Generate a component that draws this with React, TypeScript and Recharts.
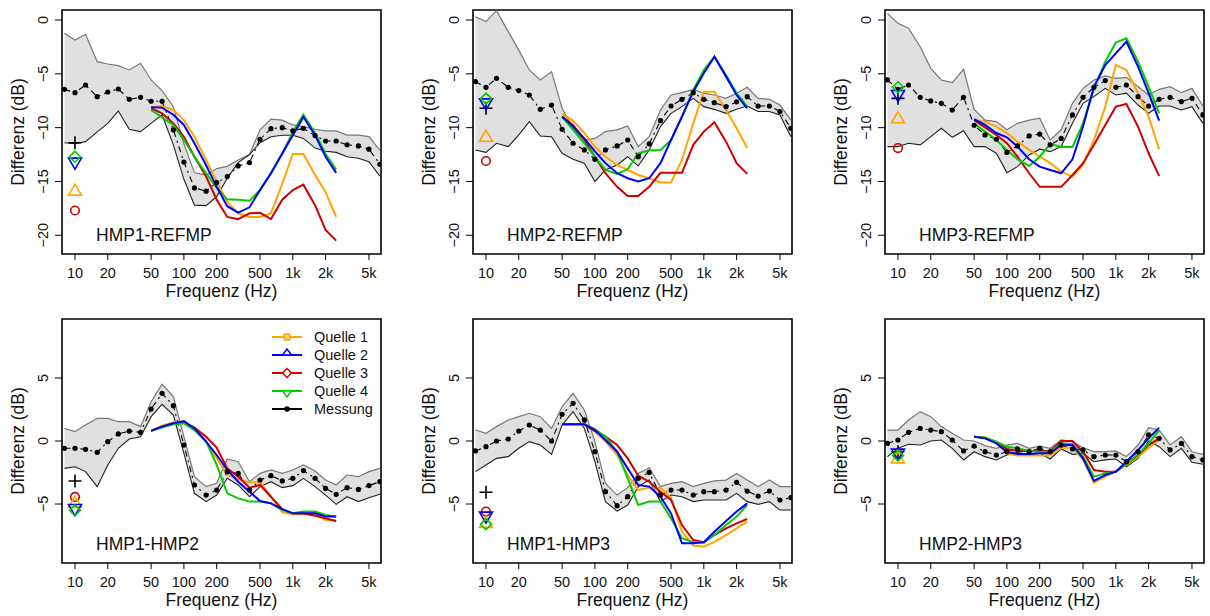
import React from 'react';
import { Area, ComposedChart, Line, ReferenceArea, Scatter, XAxis, YAxis } from 'recharts';

// terzband centre frequencies (Hz)
const FREQS = [8, 10, 12.5, 16, 20, 25, 31.5, 40, 50, 63, 80, 100, 125, 160, 200, 250, 315, 400, 500, 630, 800, 1000, 1250, 1600, 2000, 2500, 3150, 4000, 5000, 6300];
const SRC_FREQS = [50, 63, 80, 100, 125, 160, 200, 250, 315, 400, 500, 630, 800, 1000, 1250, 1600, 2000, 2500];
const X_TICKS = [10, 20, 50, 100, 200, 500, 1000, 2000, 5000];
const X_TICK_LABELS = ['10', '20', '50', '100', '200', '500', '1k', '2k', '5k'];
const Y_TICKS_TOP = [0, -5, -10, -15, -20];
const Y_TICKS_BOTTOM = [5, 0, -5];
const LEGEND_LABELS = ['Quelle 1', 'Quelle 2', 'Quelle 3', 'Quelle 4', 'Messung'];

// HMP1-REFMP
const P1_MEAN = [-6.44, -6.75, -6.04, -7.12, -6.69, -6.41, -7.37, -7.18, -7.55, -7.55, -10.2, -13.2, -15.6, -15.9, -15.1, -14.55, -13.56, -13.25, -11.08, -10.1, -10.0, -10.3, -10.06, -10.74, -11.24, -11.24, -11.6, -11.7, -12.0, -13.4];
const P1_HI = [-1.24, -1.86, -1.33, -3.87, -4.09, -4.24, -4.64, -4.02, -5.57, -6.56, -8.05, -11.5, -14.2, -14.4, -13.8, -13.6, -13.0, -12.5, -10.2, -9.2, -9.3, -9.75, -9.9, -10.15, -10.3, -10.3, -10.7, -10.7, -10.84, -12.1];
const P1_LO = [-11.4, -11.5, -11.3, -10.4, -9.6, -8.45, -10.15, -10.37, -9.6, -8.8, -11.6, -14.8, -17.2, -17.25, -16.4, -14.7, -13.25, -12.5, -11.4, -10.84, -10.7, -10.7, -11.0, -11.9, -12.2, -12.3, -12.7, -12.85, -13.16, -14.5];
const P1_Q1 = [-8.1, -8.0, -8.36, -9.3, -10.84, -13.0, -15.0, -16.9, -17.96, -18.3, -18.3, -17.96, -15.2, -12.45, -12.45, -14.4, -16.0, -18.3];
const P1_Q2 = [-8.1, -8.14, -8.8, -9.75, -11.45, -13.5, -15.5, -17.3, -17.9, -17.4, -15.8, -14.24, -12.4, -10.7, -9.0, -10.7, -12.7, -14.2];
const P1_Q3 = [-8.2, -8.67, -9.6, -10.84, -12.7, -14.55, -16.7, -18.3, -18.5, -17.96, -17.9, -18.5, -16.7, -15.8, -15.3, -17.2, -19.5, -20.5];
const P1_Q4 = [-8.36, -9.04, -9.75, -11.15, -12.7, -14.24, -15.6, -16.66, -16.7, -16.8, -15.8, -14.24, -12.4, -10.4, -8.8, -10.5, -12.45, -13.9];
const P1_AT10 = [-11.4, -15.85, -13.25, -17.7, -12.7];

// HMP2-REFMP
const P2_MEAN = [-5.73, -6.25, -5.42, -6.25, -6.56, -6.97, -8.3, -7.9, -10.15, -11.45, -12.07, -12.94, -12.07, -11.7, -11.15, -12.7, -11.5, -9.35, -7.99, -7.37, -6.75, -7.37, -7.68, -8.05, -7.6, -7.12, -7.99, -7.99, -8.5, -10.06];
const P2_HI = [0.3, -0.15, 0.87, -1.08, -2.8, -4.64, -5.57, -4.8, -8.2, -10.06, -11.15, -11.0, -10.37, -10.2, -9.85, -11.76, -10.84, -8.36, -6.97, -6.75, -6.44, -6.8, -6.97, -7.28, -6.8, -6.25, -7.28, -7.37, -7.9, -9.3];
const P2_LO = [-12.07, -12.3, -11.45, -11.76, -10.68, -9.44, -10.77, -10.84, -12.38, -12.94, -13.3, -15.0, -13.93, -13.47, -12.7, -13.56, -12.07, -9.9, -8.67, -8.05, -7.28, -8.05, -8.3, -8.67, -8.3, -7.99, -8.5, -8.5, -8.82, -10.84];
const P2_Q1 = [-8.73, -9.35, -10.5, -11.76, -12.7, -13.47, -13.93, -14.4, -14.7, -15.1, -15.1, -13.0, -9.6, -6.66, -6.66, -8.36, -10.06, -11.9];
const P2_Q2 = [-8.98, -9.9, -11.0, -12.2, -13.3, -14.24, -14.7, -15.0, -14.7, -13.3, -11.15, -8.98, -6.66, -4.95, -3.4, -5.26, -6.97, -8.2];
const P2_Q3 = [-8.98, -9.75, -11.15, -12.7, -14.24, -15.5, -16.35, -16.35, -15.5, -14.2, -14.2, -14.2, -11.6, -10.37, -9.5, -11.3, -13.3, -14.3];
const P2_Q4 = [-8.98, -10.2, -11.45, -12.7, -13.93, -14.3, -13.87, -12.38, -12.1, -12.1, -11.15, -8.98, -6.5, -4.64, -3.4, -5.1, -6.8, -8.05];
const P2_AT10 = [-8.2, -10.84, -7.75, -13.1, -7.3];

// HMP3-REFMP
const P3_MEAN = [-5.57, -6.44, -6.04, -7.18, -7.52, -7.74, -8.36, -7.18, -9.78, -10.68, -11.08, -12.3, -11.7, -10.77, -10.6, -11.6, -11.0, -8.82, -7.18, -6.25, -5.63, -6.25, -6.04, -7.12, -7.99, -7.37, -7.18, -7.58, -7.28, -8.82];
const P3_HI = [0.62, -0.31, -0.77, -2.48, -4.49, -5.57, -5.82, -4.58, -8.3, -9.3, -9.44, -10.2, -9.6, -9.3, -9.13, -11.15, -10.2, -7.74, -6.35, -5.57, -5.2, -5.42, -5.33, -6.2, -6.97, -6.44, -6.2, -6.75, -6.35, -7.99];
const P3_LO = [-11.76, -11.76, -11.45, -11.6, -10.84, -10.06, -10.9, -10.28, -11.76, -11.76, -12.38, -14.18, -13.62, -12.54, -12.0, -12.23, -11.76, -9.6, -7.74, -7.12, -6.35, -6.97, -6.8, -7.9, -8.67, -7.99, -7.99, -8.36, -8.05, -9.6];
const P3_Q1 = [-9.3, -9.44, -9.9, -10.5, -11.3, -12.07, -12.7, -13.3, -14.09, -14.55, -13.47, -11.15, -8.05, -4.18, -4.64, -6.8, -8.98, -12.0];
const P3_Q2 = [-9.22, -9.75, -10.5, -10.9, -11.76, -12.94, -13.62, -13.93, -14.24, -12.94, -9.9, -6.2, -4.18, -3.1, -2.0, -4.33, -6.8, -9.35];
const P3_Q3 = [-9.3, -9.97, -10.68, -11.45, -12.7, -14.24, -15.5, -15.5, -15.5, -14.4, -13.3, -11.6, -9.75, -8.05, -7.8, -9.9, -12.38, -14.5];
const P3_Q4 = [-9.6, -10.37, -11.15, -12.07, -12.94, -13.56, -12.7, -11.5, -11.8, -11.8, -9.6, -6.35, -3.87, -2.1, -1.7, -3.87, -6.2, -8.67];
const P3_AT10 = [-7.28, -9.13, -6.97, -11.9, -6.25];

// HMP1-HMP2
const P4_MEAN = [-0.58, -0.58, -0.66, -0.9, -0.05, 0.56, 0.79, 0.69, 2.54, 3.78, 2.8, -0.32, -3.49, -4.29, -3.89, -2.43, -2.57, -3.89, -3.1, -2.75, -3.17, -2.96, -2.35, -2.96, -3.76, -4.23, -3.7, -3.84, -3.54, -3.23];
const P4_HI = [1.0, 0.74, 1.27, 1.8, 1.8, 1.53, 1.53, 1.14, 3.12, 4.5, 3.52, 0.34, -2.83, -3.62, -3.36, -1.43, -1.64, -3.23, -2.57, -2.3, -2.57, -2.3, -1.9, -2.38, -3.1, -3.49, -2.7, -2.83, -2.43, -2.17];
const P4_LO = [-2.17, -2.04, -2.43, -3.62, -1.9, -0.58, 0.16, 0.34, 1.93, 2.91, 2.06, -0.98, -4.15, -4.81, -4.29, -2.96, -3.49, -4.42, -3.62, -3.23, -3.7, -3.54, -2.96, -3.62, -4.29, -5.03, -4.42, -4.81, -4.5, -4.23];
const P4_Q1 = [0.8, 1.22, 1.48, 1.48, 0.95, -0.05, -1.38, -2.7, -3.02, -3.28, -3.28, -4.42, -5.66, -5.82, -5.82, -5.82, -6.27, -6.35];
const P4_Q2 = [0.8, 1.14, 1.4, 1.59, 1.0, -0.05, -1.11, -2.3, -3.23, -4.02, -4.76, -4.95, -5.4, -5.74, -5.74, -5.74, -6.0, -6.0];
const P4_Q3 = [0.8, 1.14, 1.4, 1.48, 1.06, 0.34, -0.53, -2.17, -2.83, -3.7, -3.49, -4.42, -5.4, -5.74, -5.74, -5.93, -6.14, -6.35];
const P4_Q4 = [0.8, 1.06, 1.32, 1.4, 0.87, -0.05, -1.9, -4.15, -4.55, -4.81, -4.81, -4.95, -5.48, -5.74, -5.6, -5.6, -5.87, -6.0];
const P4_AT10 = [-3.17, -4.9, -5.4, -4.44, -5.5];

// HMP1-HMP3
const P5_MEAN = [-0.79, -0.45, 0.0, 0.16, 0.79, 1.27, 0.87, 0.0, 2.12, 2.99, 1.67, -0.85, -4.02, -5.13, -4.42, -2.96, -2.49, -4.29, -3.89, -3.89, -4.29, -4.02, -4.02, -3.89, -3.28, -3.97, -4.37, -3.97, -4.68, -4.5];
const P5_HI = [0.87, 0.61, 1.14, 1.67, 1.93, 2.2, 1.93, 1.0, 2.72, 3.78, 2.46, -0.05, -3.36, -4.29, -3.7, -2.57, -2.12, -3.62, -3.36, -3.23, -3.62, -3.36, -3.17, -3.1, -2.57, -3.1, -3.62, -3.1, -3.62, -3.62];
const P5_LO = [-2.43, -1.9, -1.38, -1.24, -0.58, -0.05, -0.32, -1.06, 1.27, 2.33, 1.0, -1.64, -4.81, -5.56, -5.08, -3.62, -3.1, -4.81, -4.29, -4.42, -4.81, -4.68, -4.68, -4.68, -4.15, -4.81, -5.03, -4.81, -5.48, -5.48];
const P5_Q1 = [1.32, 1.32, 1.32, 0.74, -0.05, -1.11, -2.7, -3.89, -3.7, -3.7, -4.5, -7.2, -8.3, -8.39, -8.0, -7.46, -6.93, -6.4];
const P5_Q2 = [1.32, 1.32, 1.32, 0.87, 0.08, -0.85, -2.17, -3.49, -3.62, -4.42, -5.74, -8.12, -8.12, -8.04, -7.2, -6.35, -5.6, -4.95];
const P5_Q3 = [1.32, 1.32, 1.32, 0.79, 0.34, -0.32, -1.38, -2.75, -3.23, -4.02, -4.68, -6.67, -7.86, -8.04, -7.46, -6.93, -6.53, -6.19];
const P5_Q4 = [1.32, 1.32, 1.32, 0.95, 0.34, -0.85, -2.96, -5.08, -4.81, -4.81, -6.14, -7.72, -8.04, -8.04, -7.46, -6.67, -6.0, -5.08];
const P5_AT10 = [-4.07, -6.5, -6.0, -5.6, -6.6];

// HMP2-HMP3
const P6_MEAN = [-0.19, 0.08, 0.69, 1.0, 0.87, 0.74, 0.08, -0.79, -0.4, -0.85, -1.11, -0.85, -0.63, -0.85, -0.58, -0.85, -0.32, -0.63, -0.71, -1.24, -1.11, -1.11, -1.64, -0.85, 0.48, 0.21, -0.71, -0.19, -1.24, -1.5];
const P6_HI = [0.87, 0.87, 1.67, 2.33, 1.93, 1.14, 0.61, 0.08, 0.0, -0.37, -0.58, -0.32, -0.19, -0.58, -0.4, -0.58, 0.08, -0.05, -0.53, -0.85, -0.85, -0.79, -1.24, -0.32, 1.06, 0.87, -0.32, 0.34, -0.85, -1.06];
const P6_LO = [-1.24, -0.58, -0.26, -0.32, 0.0, 0.08, -0.58, -1.5, -0.85, -1.24, -1.5, -1.11, -0.9, -1.11, -0.98, -1.43, -0.63, -1.06, -0.98, -1.64, -1.5, -1.43, -2.04, -1.38, 0.0, -0.45, -1.24, -0.58, -1.69, -1.85];
const P6_Q1 = [0.34, 0.26, -0.1, -0.98, -1.16, -1.16, -1.16, -1.16, -0.53, -0.53, -1.5, -3.31, -2.83, -2.43, -1.9, -1.24, -0.53, 0.08];
const P6_Q2 = [0.34, 0.21, -0.19, -0.85, -1.03, -1.03, -0.98, -0.98, -0.32, -0.32, -1.38, -3.17, -2.7, -2.43, -1.64, -0.71, 0.21, 1.06];
const P6_Q3 = [0.34, 0.26, -0.1, -0.63, -0.79, -0.79, -0.79, -0.79, 0.0, 0.0, -0.85, -2.3, -2.43, -2.43, -1.77, -1.11, -0.32, 0.21];
const P6_Q4 = [0.34, 0.26, -0.05, -0.45, -0.58, -0.79, -0.85, -0.85, -0.19, -0.26, -1.24, -2.83, -2.57, -2.43, -1.85, -1.11, -0.19, 0.87];
const P6_AT10 = [-0.85, -1.38, -1.0, -1.0, -1.16];

const FONT = '"Liberation Sans", Arial, sans-serif';
const ORANGE = '#FFA500';
const BLUE = '#0000FF';
const RED = '#CD0000';
const GREEN = '#00CD00';
const X_DOMAIN = [7.6, 6450];
const Y_TOP = [-21.74, 0.93];
const Y_BOTTOM = [-9.68, 9.68];

type PanelDef = {
  name: string;
  mean: number[];
  hi: number[];
  lo: number[];
  q: number[][];
  at10: number[];
};

const PANELS: PanelDef[] = [
  { name: 'HMP1-REFMP', mean: P1_MEAN, hi: P1_HI, lo: P1_LO, q: [P1_Q1, P1_Q2, P1_Q3, P1_Q4], at10: P1_AT10 },
  { name: 'HMP2-REFMP', mean: P2_MEAN, hi: P2_HI, lo: P2_LO, q: [P2_Q1, P2_Q2, P2_Q3, P2_Q4], at10: P2_AT10 },
  { name: 'HMP3-REFMP', mean: P3_MEAN, hi: P3_HI, lo: P3_LO, q: [P3_Q1, P3_Q2, P3_Q3, P3_Q4], at10: P3_AT10 },
  { name: 'HMP1-HMP2', mean: P4_MEAN, hi: P4_HI, lo: P4_LO, q: [P4_Q1, P4_Q2, P4_Q3, P4_Q4], at10: P4_AT10 },
  { name: 'HMP1-HMP3', mean: P5_MEAN, hi: P5_HI, lo: P5_LO, q: [P5_Q1, P5_Q2, P5_Q3, P5_Q4], at10: P5_AT10 },
  { name: 'HMP2-HMP3', mean: P6_MEAN, hi: P6_HI, lo: P6_LO, q: [P6_Q1, P6_Q2, P6_Q3, P6_Q4], at10: P6_AT10 },
];

// marker shapes used at 10 Hz
function Marker({ kind, cx, cy, color }: { kind: string; cx: number; cy: number; color: string }) {
  const sw = 1.6;
  if (kind === 'plus')
    return <path d={`M${cx - 6.5},${cy}H${cx + 6.5}M${cx},${cy - 6.5}V${cy + 6.5}`} stroke={color} strokeWidth={sw} fill="none" />;
  if (kind === 'up')
    return <polygon points={`${cx},${cy - 6.5} ${cx - 6.5},${cy + 4.5} ${cx + 6.5},${cy + 4.5}`} stroke={color} strokeWidth={sw} fill="none" />;
  if (kind === 'down')
    return <polygon points={`${cx - 6.5},${cy - 4.5} ${cx + 6.5},${cy - 4.5} ${cx},${cy + 6.5}`} stroke={color} strokeWidth={sw} fill="none" />;
  if (kind === 'diamond')
    return <polygon points={`${cx},${cy - 5.5} ${cx + 5.5},${cy} ${cx},${cy + 5.5} ${cx - 5.5},${cy}`} stroke={color} strokeWidth={sw} fill="none" />;
  return <circle cx={cx} cy={cy} r={4.3} stroke={color} strokeWidth={sw} fill="none" />;
}

// order of drawing: + (Messung), Quelle 3, Quelle 1, Quelle 2, Quelle 4
const MARKERS = [
  { idx: 0, kind: 'plus', color: '#000' },
  { idx: 3, kind: 'circle', color: RED },
  { idx: 1, kind: 'up', color: ORANGE },
  { idx: 2, kind: 'down', color: BLUE },
  { idx: 4, kind: 'diamond', color: GREEN },
];

const XTick = (props: any) => {
  const { x, y, payload } = props;
  const i = X_TICKS.indexOf(payload.value);
  return (
    <text x={x} y={y + 16} textAnchor="middle" fontSize={14.5} fontFamily={FONT} fill="#111">
      {X_TICK_LABELS[i]}
    </text>
  );
};

// R prints a real minus sign on the rotated y labels
const YTick = (props: any) => {
  const { x, y, payload } = props;
  const label = String(payload.value).replace('-', '\u2212');
  return (
    <text x={x - 5} y={y} transform={`rotate(-90, ${x - 5}, ${y})`} textAnchor="middle" fontSize={14.5} fontFamily={FONT} fill="#111">
      {label}
    </text>
  );
};

function Panel({ p, left, top, yDomain, yTicks }: { p: PanelDef; left: number; top: number; yDomain: number[]; yTicks: number[] }) {
  const rows = FREQS.map((f, i) => {
    const j = SRC_FREQS.indexOf(f);
    const src = (a: number[]) => (j >= 0 ? a[j] : null);
    return {
      f,
      band: [p.lo[i], p.hi[i]],
      lo: p.lo[i],
      hi: p.hi[i],
      mean: p.mean[i],
      q1: src(p.q[0]),
      q2: src(p.q[1]),
      q3: src(p.q[2]),
      q4: src(p.q[3]),
    };
  });

  return (
    <div style={{ position: 'absolute', left, top }}>
      <ComposedChart width={400} height={310} data={rows} margin={{ top: 10, right: 19, bottom: 0, left: 0 }}>
        <XAxis
          dataKey="f"
          type="number"
          scale="log"
          domain={X_DOMAIN}
          allowDataOverflow
          ticks={X_TICKS}
          interval={0}
          height={56}
          tickSize={6}
          axisLine={false}
          tickLine={{ stroke: '#000' }}
          tick={<XTick />}
          label={(lp: any) => (
            <text x={lp.viewBox.x + lp.viewBox.width / 2} y={lp.viewBox.y + 43} textAnchor="middle" fontSize={17.5} fontFamily={FONT} fill="#111">
              Frequenz (Hz)
            </text>
          )}
        />
        <YAxis
          type="number"
          domain={yDomain}
          allowDataOverflow
          ticks={yTicks}
          interval={0}
          width={62}
          tickSize={7}
          axisLine={false}
          tickLine={{ stroke: '#000' }}
          tick={<YTick />}
          label={(lp: any) => {
            const cy = lp.viewBox.y + lp.viewBox.height / 2;
            return (
              <text x={24} y={cy} transform={`rotate(-90, 24, ${cy})`} textAnchor="middle" fontSize={17.5} fontFamily={FONT} fill="#111">
                Differenz (dB)
              </text>
            );
          }}
        />
        <Area dataKey="band" type="linear" fill="#e0e0e0" fillOpacity={1} stroke="none" isAnimationActive={false} />
        <Line dataKey="hi" type="linear" stroke="#777" strokeWidth={1.2} dot={false} activeDot={false} isAnimationActive={false} />
        <Line dataKey="lo" type="linear" stroke="#222" strokeWidth={1.1} dot={false} activeDot={false} isAnimationActive={false} />
        <Line
          dataKey="mean"
          type="linear"
          stroke="#000"
          strokeWidth={1.1}
          strokeDasharray="6 4 2 4"
          dot={{ r: 2.6, fill: '#000', stroke: 'none' }}
          activeDot={false}
          isAnimationActive={false}
        />
        <Line dataKey="q1" type="linear" stroke={ORANGE} strokeWidth={2} dot={false} activeDot={false} isAnimationActive={false} />
        <Line dataKey="q3" type="linear" stroke={RED} strokeWidth={2} dot={false} activeDot={false} isAnimationActive={false} />
        <Line dataKey="q4" type="linear" stroke={GREEN} strokeWidth={2} dot={false} activeDot={false} isAnimationActive={false} />
        <Line dataKey="q2" type="linear" stroke={BLUE} strokeWidth={2} dot={false} activeDot={false} isAnimationActive={false} />
        {MARKERS.map((m) => (
          <Scatter
            key={m.kind}
            data={[{ f: 10, v: p.at10[m.idx] }]}
            dataKey="v"
            isAnimationActive={false}
            shape={(sp: any) => <Marker kind={m.kind} cx={sp.cx} cy={sp.cy} color={m.color} />}
          />
        ))}
        <ReferenceArea x1={X_DOMAIN[0]} x2={X_DOMAIN[1]} y1={yDomain[0]} y2={yDomain[1]} fill="none" stroke="#000" strokeWidth={1.6} />
      </ComposedChart>
      <div style={{ position: 'absolute', left: 96, top: 225, fontFamily: FONT, fontSize: 17.5, color: '#111', whiteSpace: 'nowrap' }}>
        {p.name}
      </div>
    </div>
  );
}

const LEGEND_COLORS = [ORANGE, BLUE, RED, GREEN, '#000'];

function LegendSymbol({ i }: { i: number }) {
  const c = LEGEND_COLORS[i];
  const cx = 15;
  const cy = 9;
  let mark: React.ReactNode = null;
  if (i === 0) mark = <rect x={cx - 3} y={cy - 3} width={6} height={6} rx={1.5} fill="#FFD27A" stroke={c} strokeWidth={1.5} />;
  if (i === 1) mark = <polygon points={`${cx},${cy - 6} ${cx - 4.5},${cy} ${cx + 4.5},${cy}`} fill="#fff" stroke={c} strokeWidth={1.5} />;
  if (i === 2) mark = <polygon points={`${cx},${cy - 4.5} ${cx + 4.5},${cy} ${cx},${cy + 4.5} ${cx - 4.5},${cy}`} fill="#fff" stroke={c} strokeWidth={1.5} />;
  if (i === 3) mark = <polygon points={`${cx - 4.5},${cy} ${cx + 4.5},${cy} ${cx},${cy + 6}`} fill="#fff" stroke={c} strokeWidth={1.5} />;
  if (i === 4) mark = <circle cx={cx} cy={cy} r={2.8} fill="#000" />;
  return (
    <svg width={30} height={18} style={{ display: 'block' }}>
      <line x1={0} y1={cy} x2={30} y2={cy} stroke={c} strokeWidth={2} />
      {mark}
    </svg>
  );
}

function PanelLegend() {
  return (
    <div style={{ position: 'absolute', left: 272, top: 328, fontFamily: FONT, fontSize: 14.5, color: '#111' }}>
      {LEGEND_LABELS.map((label, i) => (
        <div key={label} style={{ display: 'flex', alignItems: 'center', height: 18 }}>
          <LegendSymbol i={i} />
          <span style={{ marginLeft: 12, lineHeight: '18px' }}>{label}</span>
        </div>
      ))}
    </div>
  );
}

export default function App() {
  const lefts = [0, 411, 823];
  return (
    <div style={{ position: 'absolute', left: 0, top: 0, width: 1210, height: 616, overflow: 'hidden', background: '#fff' }}>
      {PANELS.map((p, k) => (
        <Panel
          key={p.name}
          p={p}
          left={lefts[k % 3]}
          top={k < 3 ? 0 : 309}
          yDomain={k < 3 ? Y_TOP : Y_BOTTOM}
          yTicks={k < 3 ? Y_TICKS_TOP : Y_TICKS_BOTTOM}
        />
      ))}
      <PanelLegend />
    </div>
  );
}
